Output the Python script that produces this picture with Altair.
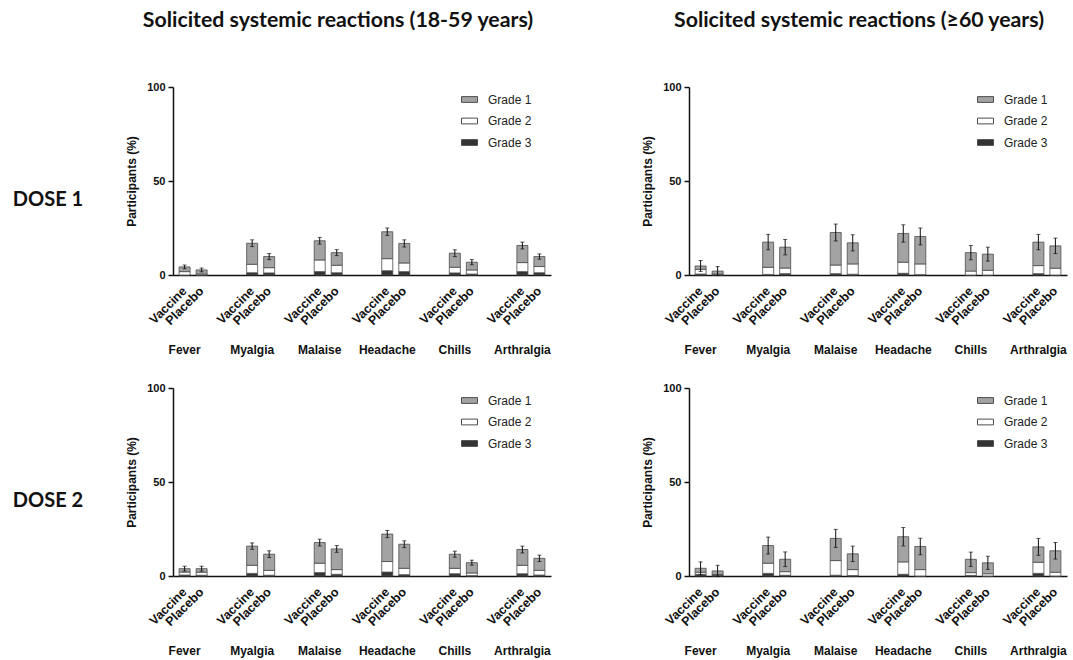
import altair as alt
import pandas as pd

symptoms = ["Fever", "Myalgia", "Malaise", "Headache", "Chills", "Arthralgia"]
groups = ["Vaccine", "Placebo"]
grades = ["Grade 1", "Grade 2", "Grade 3"]
grade_colors = ["#a3a3a3", "#ffffff", "#333333"]

# order: Fever V, Fever P, Myalgia V, Myalgia P, ... (percent of participants)
# Panel A: 18-59 years, dose 1
a_g1 = [2.5, 2.2, 11.2, 5.9, 10.2, 6.7, 14.3, 10.4, 7.5, 4.1, 9.1, 5.3]
a_g2 = [1.8, 0.5, 4.5, 2.8, 6.2, 4.0, 6.4, 4.6, 3.0, 2.2, 4.8, 3.3]
a_g3 = [0.0, 0.0, 1.2, 1.1, 1.8, 1.2, 2.3, 1.8, 1.1, 0.5, 1.8, 1.2]
a_err = [1.0, 1.0, 1.8, 1.6, 1.8, 1.6, 2.0, 1.9, 1.8, 1.4, 1.8, 1.4]
# Panel B: >=60 years, dose 1
b_g1 = [1.8, 1.6, 13.4, 11.1, 17.3, 11.2, 15.3, 14.6, 9.8, 8.6, 12.5, 11.9]
b_g2 = [2.5, 0.3, 3.8, 3.0, 4.6, 5.5, 5.9, 5.7, 2.1, 2.5, 4.3, 3.6]
b_g3 = [0.5, 0.2, 0.3, 0.7, 0.7, 0.4, 0.9, 0.2, 0.0, 0.0, 0.7, 0.0]
b_err = [2.9, 2.4, 4.1, 4.1, 4.5, 4.3, 4.6, 4.5, 3.8, 3.7, 4.1, 4.1]
# Panel C: 18-59 years, dose 2
c_g1 = [1.8, 1.9, 10.2, 8.6, 11.0, 11.0, 14.6, 12.8, 7.5, 5.5, 8.4, 6.4]
c_g2 = [1.6, 1.6, 4.3, 2.6, 5.0, 2.5, 5.6, 3.4, 2.9, 1.4, 4.5, 2.5]
c_g3 = [0.5, 0.4, 1.4, 0.4, 1.8, 0.9, 2.1, 0.7, 1.2, 0.2, 1.2, 0.5]
c_err = [1.3, 1.3, 1.7, 1.8, 1.8, 1.8, 1.9, 1.8, 1.6, 1.3, 1.8, 1.7]
# Panel D: >=60 years, dose 2
d_g1 = [2.1, 1.9, 9.4, 6.6, 11.8, 8.4, 13.4, 12.3, 7.1, 5.8, 8.2, 11.4]
d_g2 = [1.1, 0.3, 5.4, 1.9, 7.8, 3.2, 6.6, 3.4, 1.5, 1.2, 5.9, 2.0]
d_g3 = [0.9, 0.5, 1.4, 0.4, 0.4, 0.2, 0.9, 0.0, 0.3, 0.0, 1.4, 0.0]
d_err = [3.4, 3.0, 4.5, 3.9, 4.8, 4.1, 4.9, 4.4, 3.8, 3.5, 4.5, 4.4]

W = 378
H = 188
AX_FONT = "Liberation Sans"
TITLE_FONT = "Lato"


def panel(g1, g2, g3, err, title=None, title_dx=0, dose=None):
    rows, erows = [], []
    for i, s in enumerate(symptoms):
        for j, g in enumerate(groups):
            k = 2 * i + j
            for grade, vals, o in (("Grade 3", g3, 0), ("Grade 2", g2, 1), ("Grade 1", g1, 2)):
                rows.append(dict(symptom=s, group=g, grade=grade, value=vals[k], ord=o))
            tot = g1[k] + g2[k] + g3[k]
            erows.append(dict(symptom=s, group=g, lo=tot - err[k], hi=tot + err[k], label=g))
    df = pd.DataFrame(rows)
    edf = pd.DataFrame(erows)

    x = alt.X(
        "symptom:N", sort=symptoms,
        scale=alt.Scale(paddingInner=0.585, paddingOuter=0.09),
        axis=alt.Axis(title=None, labelAngle=0, labelPadding=69, ticks=False,
                      domainColor="#111111", domainWidth=1.5,
                      labelFont=AX_FONT, labelFontWeight="bold", labelFontSize=12,
                      labelColor="#111111", labelOffset=-8.5),
    )
    xo = alt.XOffset("group:N", sort=groups, scale=alt.Scale(paddingInner=0.353, paddingOuter=0))
    yaxis = alt.Axis(values=[0, 50, 100], title="Participants (%)", grid=False,
                     domainColor="#111111", domainWidth=1.5, tickColor="#111111",
                     tickWidth=1.5, tickSize=5, labelFont=AX_FONT, labelFontSize=11,
                     labelFontWeight="bold", labelColor="#111111", labelPadding=3,
                     titleFont=AX_FONT, titleFontSize=12, titleFontWeight="bold",
                     titleColor="#111111", titlePadding=8)
    yscale = alt.Scale(domain=[0, 100], nice=False)

    bars = alt.Chart(df).mark_bar(stroke="#4d4d4d", strokeWidth=0.8).encode(
        x=x, xOffset=xo,
        y=alt.Y("value:Q", stack="zero", scale=yscale, axis=yaxis),
        color=alt.Color("grade:N", scale=alt.Scale(domain=grades, range=grade_colors),
                        legend=alt.Legend(title=None, orient="none", legendX=288, legendY=4,
                                          padding=0,
                                          symbolType="M-1,-0.36H1V0.36H-1Z", symbolSize=256,
                                          symbolStrokeColor="#4d4d4d", symbolStrokeWidth=1,
                                          labelFont=AX_FONT, labelFontSize=12,
                                          labelColor="#222222", labelOffset=10,
                                          rowPadding=6.5)),
        order=alt.Order("ord:Q"),
    )
    rule = alt.Chart(edf).mark_rule(color="#111111", strokeWidth=1).encode(
        x=x, xOffset=xo, y=alt.Y("lo:Q", scale=yscale, axis=yaxis), y2="hi:Q")
    thi = alt.Chart(edf).mark_tick(color="#111111", thickness=1, size=4).encode(
        x=x, xOffset=xo, y=alt.Y("hi:Q", scale=yscale, axis=yaxis))
    tlo = alt.Chart(edf).mark_tick(color="#111111", thickness=1, size=4).encode(
        x=x, xOffset=xo, y=alt.Y("lo:Q", scale=yscale, axis=yaxis))
    labels = alt.Chart(edf).mark_text(angle=315, align="right", baseline="middle",
                                      font=AX_FONT, fontWeight="bold", fontSize=12.5,
                                      color="#111111").encode(
        x=x, xOffset=xo, y=alt.value(H + 14), text="label:N")
    layers = [bars, rule, thi, tlo, labels]
    if dose is not None:
        dl = alt.Chart(pd.DataFrame({"t": [dose]})).mark_text(
            font=TITLE_FONT, fontWeight="bold", fontSize=20, color="#111111",
            align="center", baseline="middle").encode(
            x=alt.value(-125), y=alt.value(113), text="t:N")
        layers.append(dl)
    ch = alt.layer(*layers).properties(width=W, height=H)
    if title is not None:
        ch = ch.properties(title=alt.TitleParams(
            title, font=TITLE_FONT, fontSize=21.3, fontWeight="bold", color="#111111",
            anchor="middle", frame="group", offset=50, dx=title_dx))
    return ch


p1 = panel(a_g1, a_g2, a_g3, a_err, title="Solicited systemic reactions (18-59 years)",
           title_dx=-24, dose="DOSE 1")
p2 = panel(b_g1, b_g2, b_g3, b_err, title="Solicited systemic reactions (\u226560 years)",
           title_dx=-19)
p3 = panel(c_g1, c_g2, c_g3, c_err, dose="DOSE 2")
p4 = panel(d_g1, d_g2, d_g3, d_err)

chart = alt.concat(p1, p2, p3, p4, columns=2, spacing={"row": 27, "column": 90})
chart = chart.resolve_legend(color="independent").resolve_scale(color="independent")
chart = chart.properties(padding={"left": 12, "top": 9, "right": 2, "bottom": 2},
                         background="white").configure_view(stroke=None)

chart.save("out.html", embed_options={"renderer": "svg", "actions": False})
